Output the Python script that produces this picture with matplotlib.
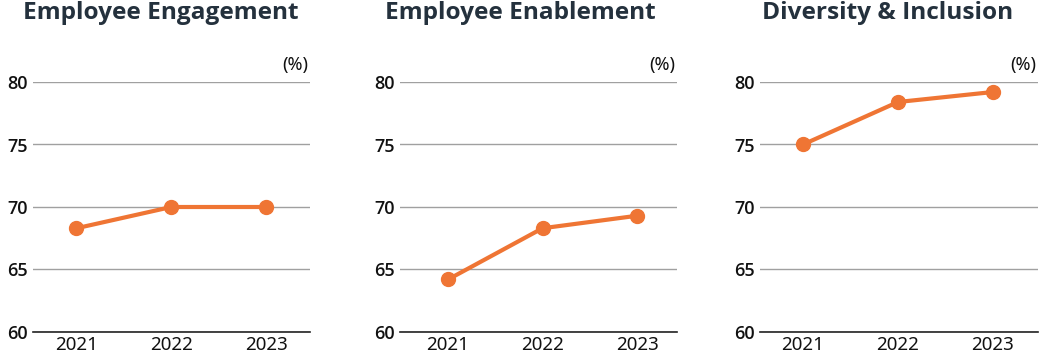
import matplotlib
matplotlib.use("Agg")
import matplotlib.pyplot as plt

years = ["2021", "2022", "2023"]
titles = ["Employee Engagement", "Employee Enablement", "Diversity & Inclusion"]
engagement = [68.3, 70.0, 70.0]
enablement = [64.2, 68.3, 69.3]
inclusion = [75.0, 78.4, 79.2]
series = [engagement, enablement, inclusion]
yticks = [60, 65, 70, 75, 80]

plt.rcParams["font.family"] = ["Noto Sans", "DejaVu Sans"]

W, H = 1045, 356
fig = plt.figure(figsize=(W / 100, H / 100), dpi=100)

# axes boxes in pixels (left, right), x limits and title x per panel
axes_px = [(33, 310), (400, 677), (760, 1038)]
xlims = [(-0.459, 2.464), (-0.508, 2.423), (-0.453, 2.474)]
title_x = [23, 385, 762]
top_px, bot_px = 82, 332
orange = "#ef7534"

for i, (vals, title) in enumerate(zip(series, titles)):
    l, r = axes_px[i]
    ax = fig.add_axes([l / W, 1 - bot_px / H, (r - l) / W, (bot_px - top_px) / H])
    x = list(range(len(years)))
    ax.plot(x, vals, color=orange, lw=3, marker="o", ms=10, clip_on=False, zorder=3)
    ax.set_ylim(60, 80)
    ax.set_xlim(*xlims[i])
    ax.set_yticks(yticks)
    ax.set_xticks(x)
    ax.set_xticklabels(years)
    for s in ["top", "right", "left"]:
        ax.spines[s].set_visible(False)
    ax.spines["bottom"].set_color("#222222")
    ax.spines["bottom"].set_linewidth(1.2)
    ax.grid(axis="y", color="#a0a0a0", lw=1)
    ax.set_axisbelow(True)
    ax.tick_params(axis="x", length=0, labelsize=13.5, colors="#111111", pad=3)
    ax.tick_params(axis="y", length=0, labelsize=13, colors="#111111", pad=4)
    for lab in ax.get_yticklabels():
        lab.set_family(["Open Sans", "DejaVu Sans"])
        lab.set_fontweight("semibold")
    ax.text(0.993, 1.03, "(%)", transform=ax.transAxes, ha="right", va="bottom",
            fontsize=13, color="#111111")
    fig.text(title_x[i] / W, 1 - 1 / H, title, ha="left", va="top",
             fontsize=17.6, fontweight="bold", color="#24313d",
             family=["Open Sans", "DejaVu Sans"])

fig.savefig("out.png", dpi=100)
